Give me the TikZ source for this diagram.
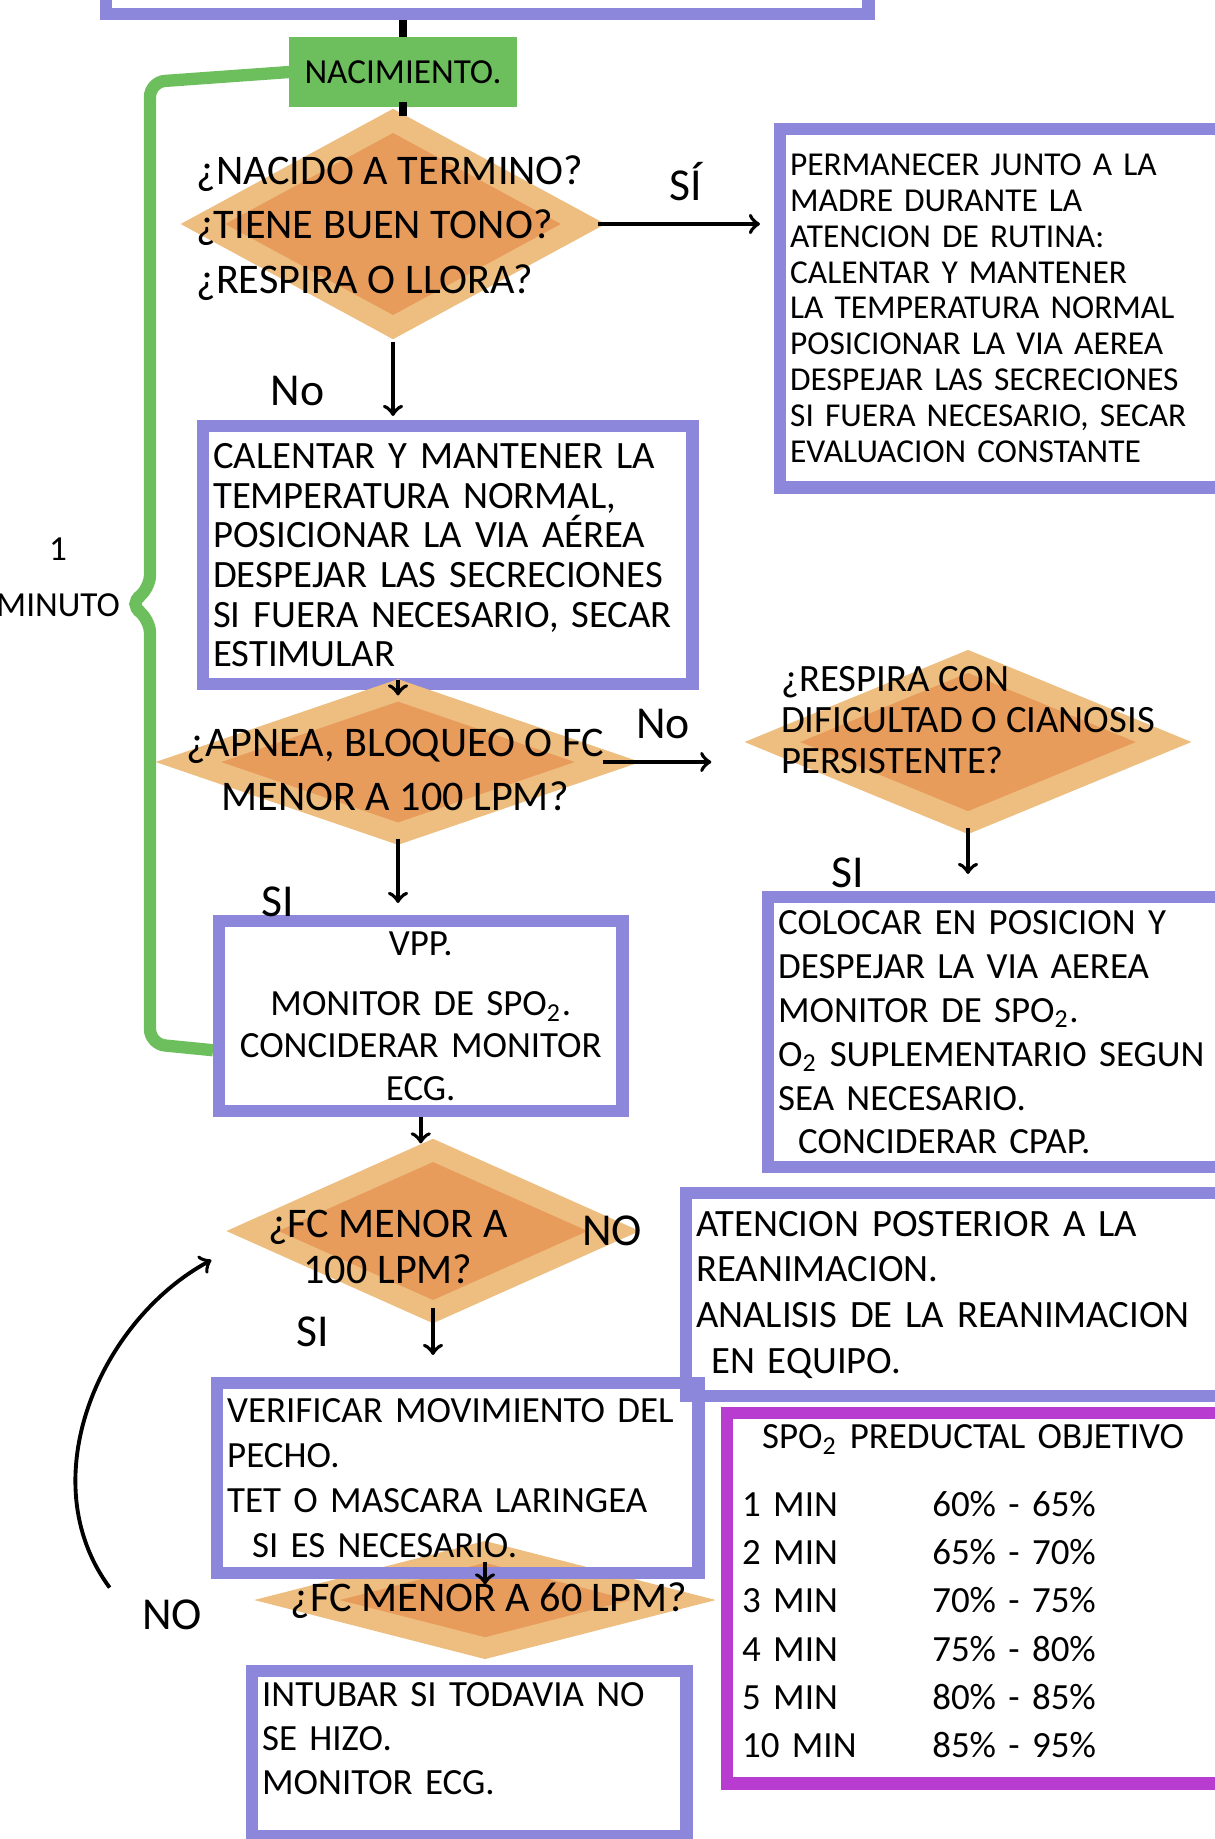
\documentclass[tikz,border=0pt]{standalone}
\usepackage{fontspec}
\setmainfont{Carlito}
\usepackage{tikz}
\usetikzlibrary{shapes.geometric, arrows}
\definecolor{lilac}{HTML}{8C87DA}
\definecolor{leafgreen}{HTML}{6DBE5C}
\definecolor{sand}{HTML}{EDBE80}
\definecolor{speckle}{HTML}{E89C5C}
\definecolor{orchid}{HTML}{B83CD0}
\tikzstyle{startbox} = [rectangle, draw=leafgreen, fill=leafgreen, line width=2pt, minimum width=2.2cm, minimum height=0.62cm, font=\fontsize{10}{12}\selectfont]
\tikzstyle{decision} = [diamond, draw=sand, fill=speckle, line width=6pt, inner sep=0pt]
\tikzstyle{question} = [align=center, font=\fontsize{12}{15.5}\selectfont]
\tikzstyle{process} = [rectangle, draw=lilac, line width=3.5pt, anchor=north west, align=left, inner xsep=0.1cm, inner ysep=0.05cm, font=\fontsize{10.5}{12}\selectfont]
\tikzstyle{target} = [process, draw=orchid]
\tikzstyle{arrow} = [->, line width=1.1pt, >=to]
\tikzstyle{link} = [line width=2.2pt]
\tikzstyle{bracket} = [draw=leafgreen, line width=3.5pt, rounded corners=0.15cm]
\tikzstyle{branch} = [font=\fontsize{13}{15}\selectfont]

\begin{document}
\begin{tikzpicture}[x=0.01cm, y=-0.01cm]
    \useasboundingbox (0,0) rectangle (1215,1839);

        % nodes
        \node (prev) [process, minimum width=7.62cm, minimum height=1.6cm] at (100,-152) {};
        \node (nac) [startbox] at (403,72) {NACIMIENTO.};
        \node (d1) [decision, minimum width=3.89cm, minimum height=2.15cm] at (393,224) {};
        \node (d1_text) [question, align=left] at (390,228) {¿NACIDO A TERMINO?\\¿TIENE BUEN TONO?\\¿RESPIRA O LLORA?};
        \node (routine) [process, text width=4.28cm, minimum height=3.58cm, font=\fontsize{9.5}{10.2}\selectfont] at (774,123) {PERMANECER JUNTO A LA\\MADRE DURANTE LA\\ATENCION DE RUTINA:\\CALENTAR Y MANTENER\\LA TEMPERATURA NORMAL\\POSICIONAR LA VIA AEREA\\DESPEJAR LAS SECRECIONES\\SI FUERA NECESARIO, SECAR\\EVALUACION CONSTANTE};
        \node (warm) [process, text width=4.69cm, minimum height=2.58cm, font=\fontsize{11}{11.3}\selectfont] at (197,420) {CALENTAR Y MANTENER LA\\TEMPERATURA NORMAL,\\POSICIONAR LA VIA AÉREA\\DESPEJAR LAS SECRECIONES\\SI FUERA NECESARIO, SECAR\\ESTIMULAR};
        \node (d2) [decision, minimum width=4.28cm, minimum height=1.52cm] at (398,762) {};
        \node (d2_text) [question] at (395,770) {¿APNEA, BLOQUEO O FC\\MENOR A 100 LPM?};
        \node (d3) [decision, minimum width=4.0cm, minimum height=1.7cm] at (968,742) {};
        \node (d3_text) [question, align=left, font=\fontsize{11}{11.6}\selectfont] at (968,720) {¿RESPIRA CON\\DIFICULTAD O CIANOSIS\\PERSISTENTE?};
        \node (cpap) [process, text width=4.4cm, minimum height=2.7cm, font=\fontsize{10.5}{12.5}\selectfont] at (762,891) {COLOCAR EN POSICION Y\\DESPEJAR LA VIA AEREA\\MONITOR DE SPO\textsubscript{2}.\\O\textsubscript{2} SUPLEMENTARIO SEGUN\\SEA NECESARIO.\\\hspace*{2mm}CONCIDERAR CPAP.};
        \node (vpp) [process, align=center, text width=3.83cm, minimum height=1.9cm, font=\fontsize{10.5}{12}\selectfont] at (213,915) {VPP.\\[5pt]MONITOR DE SPO\textsubscript{2}.\\CONCIDERAR MONITOR\\ECG.};
        \node (d4) [decision, minimum width=3.7cm, minimum height=1.7cm] at (433,1231) {};
        \node (d4_text) [question, font=\fontsize{12}{13.3}\selectfont] at (388,1247) {¿FC MENOR A\\100 LPM?};
        \node (d4_no) [branch] at (612,1231) {NO};
        \node (after) [process, text width=5.22cm, minimum height=2.03cm, font=\fontsize{11}{13}\selectfont] at (680,1187) {ATENCION POSTERIOR A LA\\REANIMACION.\\ANALISIS DE LA REANIMACION\\\hspace*{1.5mm}EN EQUIPO.};
        \node (d5) [decision, minimum width=3.85cm, minimum height=1.05cm] at (485,1600) {};
        \node (d5_text) [question] at (489,1601) {¿FC MENOR A 60 LPM?};
        \node (chest) [process, text width=4.61cm, minimum height=1.9cm, font=\fontsize{10.5}{12.8}\selectfont] at (211,1377) {VERIFICAR MOVIMIENTO DEL\\PECHO.\\TET O MASCARA LARINGEA\\\hspace*{2.5mm}SI ES NECESARIO.};
        \node (intubate) [process, text width=4.14cm, minimum height=1.65cm, font=\fontsize{10.5}{12.5}\selectfont] at (246,1665) {INTUBAR SI TODAVIA NO\\SE HIZO.\\MONITOR ECG.\\[-4pt]\mbox{}};
        \node (spo2) [target, text width=4.71cm, minimum height=3.7cm, inner xsep=0.15cm] at (721,1407) {{\fontsize{10.5}{13}\selectfont\hspace*{2mm}SPO\textsubscript{2} PREDUCTAL OBJETIVO}\\[2.5mm]
            \fontsize{10.5}{13.7}\selectfont
            \begin{tabular}{@{}p{1.9cm}@{}l@{}}
                1 MIN & 60\% - 65\%\\
                2 MIN & 65\% - 70\%\\
                3 MIN & 70\% - 75\%\\
                4 MIN & 75\% - 80\%\\
                5 MIN & 80\% - 85\%\\
                10 MIN & 85\% - 95\%
            \end{tabular}};
        \node (one_minute) [align=center, font=\fontsize{10}{16}\selectfont] at (58,577) {1\\MINUTO};
        \node (back_no) [branch] at (172,1615) {NO};

        % edges
        \draw [link] (prev.south -| nac.north) -- (nac.north);
        \draw [link] ([yshift=0.05cm]nac.south) -- ([yshift=-0.1cm]nac.south |- d1.north);
        \draw [arrow, shorten >=0.14cm] (d1.east) -- node[midway, above, yshift=1mm, branch] {SÍ} (d1.east -| routine.west);
        \draw [arrow, shorten >=0.04cm] (d1.south) -- node[midway, left, xshift=-0.55cm, yshift=-1mm, branch] {No} (d1.south |- warm.north);
        \draw [arrow] ([yshift=0.1cm]warm.south -| d2.north) -- ([yshift=-0.2cm]d2.north);
        \draw [arrow, shorten <=-0.2cm, shorten >=0.46cm] (d2.east) -- node[pos=0.3, above, yshift=1mm, branch] {No} (d2.east -| d3.west);
        \draw [arrow, shorten <=-0.1cm, shorten >=0.17cm] (d3.south) -- node[pos=0.65, left, xshift=-0.9cm, branch] {SI} (d3.south |- cpap.north);
        \draw [arrow, shorten <=-0.1cm, shorten >=0.12cm] (d2.south) -- node[pos=0.8, left, xshift=-0.9cm, branch] {SI} (d2.south |- vpp.north);
        \draw [arrow] (vpp.south) -- ([yshift=-0.08cm]vpp.south |- d4.north);
        \draw [arrow, shorten <=-0.19cm, shorten >=0.22cm] (d4.south) -- node[pos=0.1, left, xshift=-0.9cm, branch] {SI} (d4.south |- chest.north);
        \draw [arrow] ([yshift=0.17cm]chest.south -| d5.north) -- ([yshift=-0.05cm]chest.south -| d5.north);
        \draw [arrow] ([xshift=-0.2cm]back_no.north west) .. controls (30,1480) and (100,1320) .. ([xshift=-0.26cm, yshift=-0.29cm]d4.west);
        \draw [bracket] (nac.west) -- (150,82) -- (150,590) -- (128,604) -- (150,618) -- (150,1044) -- ([yshift=-0.34cm]vpp.west);

\end{tikzpicture}
\end{document}
